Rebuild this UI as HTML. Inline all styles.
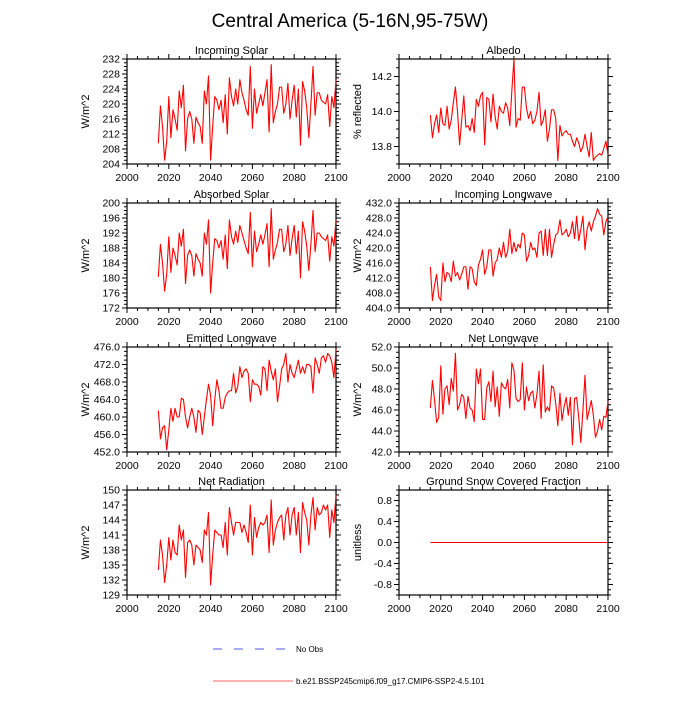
<!DOCTYPE html>
<html><head><meta charset="utf-8"><style>
body{margin:0;background:#fff;}
svg text{font-family:"Liberation Sans",sans-serif;fill:#000;}
</style></head><body>
<svg id="chart" width="700" height="700" viewBox="0 0 700 700" xmlns="http://www.w3.org/2000/svg">
<rect width="700" height="700" fill="#fff"/>
<text x="350" y="27" font-size="19" text-anchor="middle">Central America (5-16N,95-75W)</text>
<g id="panels"></g>
<g>
<line x1="213" y1="649" x2="287" y2="649" stroke="#5555ee" stroke-width="1" stroke-dasharray="9,12"/>
<text x="296" y="652" font-size="8">No Obs</text>
<line x1="213" y1="681" x2="293" y2="681" stroke="#ff6666" stroke-width="1"/>
<text x="296" y="684" font-size="8">b.e21.BSSP245cmip6.f09_g17.CMIP6-SSP2-4.5.101</text>
</g>
</svg>
<script>
const startYear = 2015;
const xTicks = [2000, 2020, 2040, 2060, 2080, 2100];
const incomingSolar = [209.5,219.5,214,205,210,222,211,218.5,216,213,223.5,219,225,207.5,216,218,216,209.5,216.5,215,214,209.5,223.5,220,227.5,205,214,222,221,218.5,221,215,222.5,212,227,222,219.5,224,220,226.5,223,221,218.5,217,230,213.5,224,217.5,220,222.5,219.5,223,226.5,212.5,230.5,215,218,220,224.5,224.5,217.5,220,225.5,216,221,225,216.5,224,209,226,223.5,219,211,220,230,217,223,223,221,220.5,220,222.5,214,222,219,226.5];
const albedo = [13.98,13.85,13.93,13.98,13.88,14.02,13.93,13.92,14.03,13.9,13.95,14.05,14.14,14.0,13.81,13.95,14.09,13.91,13.92,13.89,13.96,13.88,14.07,14.03,14.09,14.11,13.81,14.08,14.07,13.94,14.1,13.97,13.9,14.03,14.0,13.99,14.05,14.02,13.92,14.12,14.3,13.91,13.96,13.95,14.14,14.14,14.02,13.96,14.0,13.93,13.95,14.0,14.11,13.92,13.95,14.01,13.83,13.9,14.01,14.01,13.96,13.72,13.92,13.86,13.88,13.89,13.87,13.87,13.83,13.8,13.85,13.82,13.77,13.8,13.87,13.8,13.74,13.88,13.72,13.74,13.75,13.76,13.75,13.79,13.83,13.75];
const absorbedSolar = [180.3,189,184,176.5,181,191,181.5,188,186,183.5,192,188.5,193,178.5,186,187.5,186,180.5,186.5,185,184,180.5,192,189,195.5,176,184,190.5,190,188,190,185,191.5,182.5,195.5,191,189,192.5,189.5,194,192,190,188,186.5,197.5,183,192.5,187,189,191.5,189,191.5,194.5,183,198.5,185,187.5,189.5,193,193,187,189,194,186,190.5,194,186.5,192.5,180,195,192.5,188.5,182,189,198,187,192,192,191,190.5,190,191.5,184.5,191,188.5,195.5];
const incomingLongwave = [415,406,410,413,407,406,416,411,413.5,413,411,416.5,412.5,413.5,411.5,413,415,415,409,415,414.5,411,410,415.5,417,419.5,413,415,419.5,419.5,412.5,416,417,420,417.5,421.5,417.5,419,425,418.5,421.5,419,421,420,424,423.5,416.5,418,421.5,419.5,420,417.5,424,424.5,418,425,418,425,417.5,421,423.5,424,427.5,423.5,424,425,423,424,427,422.5,428.5,422,425,428.5,419.5,425,427,424.5,427,428.5,430.5,429,428.5,423.5,427,428.5];
const emittedLongwave = [461.5,455,457.5,458,452.5,457,462,459,462,460,460,464.3,464,460,457.5,460,462,460,456.5,461.5,461,456,460,464,467.5,465,458,464,468.5,466,462,462,464.5,465.5,466,466,470,465.5,467,471.5,469,470.5,471,470,463.5,468.5,467.5,467.5,467,465,471.5,471,466,473,470.5,468.5,471,463.5,467,471,472,474.5,468,472,470,469,471,473,470,471.5,470,472,472,471.5,465.5,473.5,472,470,473.5,474,472.5,474.5,474,472.5,469,475.5];
const netLongwave = [46.2,48.8,47,44.8,45.3,50.2,45.6,48,48.3,46.5,49,47.8,51.4,46,46.5,47.5,47.2,45.2,47.3,46.2,46,44.9,49.9,48.5,49.9,45.1,45.1,48.1,48.7,46.8,49.7,46.3,48.2,45.4,48.6,48.2,48,48.9,46.2,50.5,49.8,47.1,46.8,47,50.5,46,48.2,46.9,47.6,47.8,46.2,47.5,49.7,45.2,50.3,45.8,46.3,45.9,48.3,48.1,46.6,44.5,47.6,45,46.3,47.2,45.5,47.2,42.7,47.1,47.2,45.3,42.9,46,49.3,45.1,46,46.9,45.5,43.4,44,45.1,44.1,45.4,45.3,46.8];
const netRadiation = [134,140,137,131.5,135,140.5,136,140,137.5,137,143,140,142,132.5,139.5,140,139,135,139,138.5,138,135.5,142,141,145.5,131,137,142,141.5,141,141,138.5,143.5,137,146.5,143.5,141,143.5,143.5,143.5,141.5,143,141.5,139.5,147,137,144.5,140.5,142.5,143.5,143,143.5,145,137.5,148,139,142,143.5,144.5,145,140,145,146.5,141,145,146.5,141,145.5,137.5,147.5,145.5,144,139,145,148.5,142,146.5,145,145.5,147,146,147,140.5,146,143.5,149];
const snowFraction = [0,0,0,0,0,0,0,0,0,0,0,0,0,0,0,0,0,0,0,0,0,0,0,0,0,0,0,0,0,0,0,0,0,0,0,0,0,0,0,0,0,0,0,0,0,0,0,0,0,0,0,0,0,0,0,0,0,0,0,0,0,0,0,0,0,0,0,0,0,0,0,0,0,0,0,0,0,0,0,0,0,0,0,0,0,0];
const ticksSolar = [204,208,212,216,220,224,228,232];
const ticksAlbedo = [13.8,14.0,14.2];
const ticksAbsorbed = [172,176,180,184,188,192,196,200];
const ticksInLW = [404,408,412,416,420,424,428,432];
const ticksEmLW = [452,456,460,464,468,472,476];
const ticksNetLW = [42,44,46,48,50,52];
const ticksNetRad = [129,132,135,138,141,144,147,150];
const ticksSnow = [-0.8,-0.4,0.0,0.4,0.8];

const NS = "http://www.w3.org/2000/svg";
const root = document.getElementById('panels');
function mk(tag, attrs, parent){const e=document.createElementNS(NS,tag);for(const k in attrs)e.setAttribute(k,attrs[k]);parent.appendChild(e);return e;}

function panel(key, title, ylabel, data, yTicks, ymin, ymax, dec, minorStep, x0, y0){
  const W=209, H=105;
  const g=mk('g',{},root);
  
  
  const sx=v=>x0+(v-2000)/100*W;
  const sy=v=>y0+H-(v-ymin)/(ymax-ymin)*H;
  const t=mk('text',{x:x0+W/2,y:y0-5,'font-size':11,'text-anchor':'middle'},g);
  t.textContent=title;
  
  
  const yl=mk('text',{x:0,y:0,'font-size':11,'text-anchor':'middle',transform:`translate(${x0-38},${y0+H/2}) rotate(-90)`},g);
  yl.textContent=ylabel;
  
  
  for(let yr=2000;yr<=2100;yr+=5){
    const maj=yr%20===0, L=maj?5:3, X=sx(yr);
    mk('line',{x1:X,x2:X,y1:y0+H,y2:y0+H+L,stroke:'#000','stroke-width':1},g);
    mk('line',{x1:X,x2:X,y1:y0,y2:y0-L,stroke:'#000','stroke-width':1},g);
  }
  xTicks.forEach(v=>{
    const tl=mk('text',{x:sx(v),y:y0+H+17,'font-size':10.5,'text-anchor':'middle'},g);
    tl.textContent=v;
    
    
  });
  for(let v=ymin; v<=ymax+1e-9; v+=minorStep){
    const Y=sy(v);
    mk('line',{x1:x0,x2:x0-3,y1:Y,y2:Y,stroke:'#000','stroke-width':1},g);
    mk('line',{x1:x0+W,x2:x0+W+3,y1:Y,y2:Y,stroke:'#000','stroke-width':1},g);
  }
  yTicks.forEach(v=>{
    const Y=sy(v);
    mk('line',{x1:x0,x2:x0-5,y1:Y,y2:Y,stroke:'#000','stroke-width':1},g);
    mk('line',{x1:x0+W,x2:x0+W+5,y1:Y,y2:Y,stroke:'#000','stroke-width':1},g);
    const tl=mk('text',{x:x0-7,y:Y+3.5,'font-size':10.5,'text-anchor':'end'},g);
    tl.textContent=v.toFixed(dec);
    
    
  });
  const box=mk('rect',{x:x0,y:y0,width:W,height:H,fill:'none',stroke:'#000','stroke-width':1.2},g);
  
  
  const pts=data.slice(0,86).map((v,i)=>sx(startYear+i).toFixed(2)+','+sy(v).toFixed(2)).join(' ');
  const pl=mk('polyline',{points:pts,fill:'none',stroke:'#ff0000','stroke-width':1.1,'stroke-linejoin':'round'},g);
  
  
}
const LX=127, RX=399;
panel('incoming-solar','Incoming Solar','W/m^2',incomingSolar,ticksSolar,204,232,0,1,LX,59);
panel('albedo','Albedo','% reflected',albedo,ticksAlbedo,13.7,14.3,1,0.05,RX,59);
panel('absorbed-solar','Absorbed Solar','W/m^2',absorbedSolar,ticksAbsorbed,172,200,0,1,LX,203);
panel('incoming-longwave','Incoming Longwave','W/m^2',incomingLongwave,ticksInLW,404,432,1,1,RX,203);
panel('emitted-longwave','Emitted Longwave','W/m^2',emittedLongwave,ticksEmLW,452,476,1,1,LX,347);
panel('net-longwave','Net Longwave','W/m^2',netLongwave,ticksNetLW,42,52,1,0.5,RX,347);
panel('net-radiation','Net Radiation','W/m^2',netRadiation,ticksNetRad,129,150,0,1,LX,490);
panel('snow-fraction','Ground Snow Covered Fraction','unitless',snowFraction,ticksSnow,-1,1,1,0.1,RX,490);
</script>
</body></html>
